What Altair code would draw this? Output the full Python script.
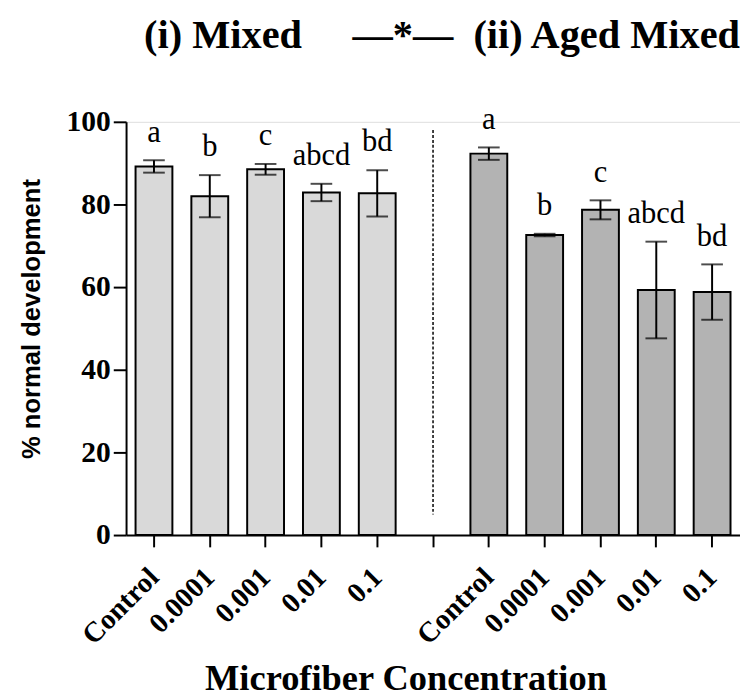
import altair as alt
import pandas as pd

concentrations = ["Control", "0.0001", "0.001", "0.01", "0.1"]
group_names = ["Mixed", "Aged Mixed"]
means_mixed = [89.2, 82.0, 88.5, 82.9, 82.7]
err_mixed = [1.5, 5.1, 1.3, 2.1, 5.6]
means_aged = [92.3, 72.6, 78.7, 59.3, 58.8]
err_aged = [1.5, 0.3, 2.3, 11.7, 6.7]
letters = ["a", "b", "c", "abcd", "bd"]

rows = []
for g, means, errs in [(group_names[0], means_mixed, err_mixed), (group_names[1], means_aged, err_aged)]:
    for c, m, e, l in zip(concentrations, means, errs, letters):
        rows.append({"key": f"{g}|{c}", "group": g, "conc": c, "mean": m,
                     "lo": m - e, "hi": m + e, "letter": l})
df = pd.DataFrame(rows)

order = [f"{group_names[0]}|{c}" for c in concentrations] + ["gap"] + \
        [f"{group_names[1]}|{c}" for c in concentrations]

SERIF = "Liberation Serif"
SANS = "Liberation Sans"

xscale = alt.Scale(domain=order, paddingInner=0.34, paddingOuter=0.17)
x = alt.X("key:N", scale=xscale, sort=order,
          axis=alt.Axis(title="Microfiber Concentration",
                        labelExpr="indexof(datum.label,'|')>=0 ? split(datum.label,'|')[1] : ''",
                        labelAngle=-45, labelAlign="right", labelBaseline="middle",
                        labelFont=SERIF, labelFontWeight="bold", labelFontSize=29,
                        labelColor="black", labelPadding=26,
                        tickSize=12, tickWidth=2, tickColor="black",
                        domainColor="black", domainWidth=2,
                        titleFont=SERIF, titleFontWeight="bold", titleFontSize=37,
                        titleColor="black", titleX=284, titleY=157,
                        titleBaseline="alphabetic", titleAlign="center"))
yscale = alt.Scale(domain=[0, 100], nice=False)
y = alt.Y("mean:Q", scale=yscale,
          axis=alt.Axis(title="% normal development", values=[0, 20, 40, 60, 80, 100],
                        grid=False, labelFont=SERIF, labelFontWeight="bold",
                        labelFontSize=30, labelColor="black", labelPadding=3,
                        tickSize=13, tickWidth=2, tickColor="black",
                        domainColor="black", domainWidth=2,
                        titleFont=SANS, titleFontWeight="bold", titleFontSize=26,
                        titleColor="black", titleX=-96, titleY=200,
                        titleBaseline="middle", titleAlign="center", titleAngle=-90))

color = alt.Color("group:N", scale=alt.Scale(domain=group_names, range=["#d9d9d9", "#b3b3b3"]),
                  legend=None)

bars = alt.Chart(df).mark_bar(stroke="black", strokeWidth=2).encode(x=x, y=y, fill=color)
err = alt.Chart(df).mark_rule(color="black", strokeWidth=2).encode(
    x=alt.X("key:N", scale=xscale, sort=order), y=alt.Y("lo:Q", scale=yscale), y2="hi:Q")
cap_hi = alt.Chart(df).mark_tick(color="black", thickness=2, size=22).encode(
    x=alt.X("key:N", scale=xscale, sort=order), y=alt.Y("hi:Q", scale=yscale))
cap_lo = alt.Chart(df).mark_tick(color="black", thickness=2, size=22).encode(
    x=alt.X("key:N", scale=xscale, sort=order), y=alt.Y("lo:Q", scale=yscale))
text = alt.Chart(df).mark_text(font=SERIF, fontSize=31, color="black",
                               baseline="alphabetic", dy=-19).encode(
    x=alt.X("key:N", scale=xscale, sort=order), y=alt.Y("hi:Q", scale=yscale),
    text="letter:N")
sep = alt.Chart(pd.DataFrame({"key": ["gap"]})).mark_rule(
    color="black", strokeWidth=1.5, strokeDash=[3, 2]).encode(
    x=alt.X("key:N", scale=xscale, sort=order), y=alt.datum(98), y2=alt.datum(5))

chart = alt.layer(bars, err, cap_hi, cap_lo, text, sep).properties(
    width=624, height=420,
    padding={"left": 10, "top": 2, "right": 0, "bottom": 0},
    title=alt.TitleParams(
        "(i) Mixed\u00a0\u00a0\u00a0\u00a0\u00a0—*—\u00a0\u00a0(ii) Aged Mixed",
        font=SERIF, fontWeight="bold", fontSize=41, color="black",
        anchor="end", frame="group", offset=48),
).configure_view(stroke=None).configure(background="white")

chart.save("out.html", embed_options={"renderer": "svg", "actions": False})
